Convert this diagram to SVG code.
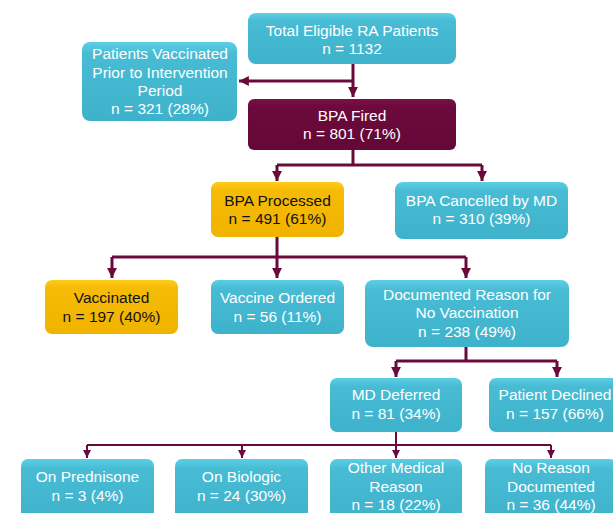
<svg xmlns="http://www.w3.org/2000/svg" width="613" height="513" viewBox="0 0 613 513">
<defs>
<linearGradient id="gT" x1="0" y1="0" x2="0" y2="1"><stop offset="0" stop-color="#5ccfe6"/><stop offset="0.15" stop-color="#48bcd4"/><stop offset="1" stop-color="#3fb2cb"/></linearGradient>
<linearGradient id="gG" x1="0" y1="0" x2="0" y2="1"><stop offset="0" stop-color="#ffcc1a"/><stop offset="0.15" stop-color="#f6bb06"/><stop offset="1" stop-color="#f0b400"/></linearGradient>
<linearGradient id="gM" x1="0" y1="0" x2="0" y2="1"><stop offset="0" stop-color="#7a1048"/><stop offset="0.15" stop-color="#6c0a3c"/><stop offset="1" stop-color="#640837"/></linearGradient>
<marker id="ah" viewBox="0 0 10 10" refX="10" refY="5" markerWidth="3.3" markerHeight="3.3" orient="auto" markerUnits="strokeWidth"><path d="M0,0 L10,5 L0,10 z" fill="#6b0a3a"/></marker>
<marker id="ahs" viewBox="0 0 10 10" refX="10" refY="5" markerWidth="4" markerHeight="4" orient="auto" markerUnits="strokeWidth"><path d="M0,0 L10,5 L0,10 z" fill="#6b0a3a"/></marker>
</defs>
<style>
.t rect{fill:url(#gT);}
.g rect{fill:url(#gG);}
.m rect{fill:url(#gM);}
text{font-family:"Liberation Sans",Arial,sans-serif;font-size:15.5px;text-anchor:middle;fill:#ffffff;}
.g text{fill:#111111;}
.c{stroke:#6b0a3a;fill:none;stroke-width:3;}
.c2{stroke:#6b0a3a;fill:none;stroke-width:2;}
</style>
<g id="connectors">
<path class="c" d="M353,64 V97" marker-end="url(#ah)"/>
<path class="c" d="M353,81 H239" marker-end="url(#ah)"/>
<path class="c" d="M353,150 V165"/>
<path class="c" d="M277,165 H482"/>
<path class="c" d="M277,165 V181" marker-end="url(#ah)"/>
<path class="c" d="M482,165 V181" marker-end="url(#ah)"/>
<path class="c" d="M277,237 V257"/>
<path class="c" d="M112,257 H466"/>
<path class="c" d="M112,257 V278" marker-end="url(#ah)"/>
<path class="c" d="M277,257 V278" marker-end="url(#ah)"/>
<path class="c" d="M466,257 V278" marker-end="url(#ah)"/>
<path class="c" d="M466,347 V361"/>
<path class="c" d="M396,361 H557"/>
<path class="c" d="M396,361 V377" marker-end="url(#ah)"/>
<path class="c" d="M557,361 V377" marker-end="url(#ah)"/>
<path class="c2" d="M396,432 V445"/>
<path class="c2" d="M87,445 H551"/>
<path class="c2" d="M87,445 V458" marker-end="url(#ahs)"/>
<path class="c2" d="M242,445 V458" marker-end="url(#ahs)"/>
<path class="c2" d="M396,445 V458" marker-end="url(#ahs)"/>
<path class="c2" d="M551,445 V458" marker-end="url(#ahs)"/>
</g>
<g id="total" class="t"><rect x="248" y="13" width="208" height="51" rx="8"/><text x="352" y="36">Total Eligible RA Patients</text><text x="352" y="54">n = 1132</text></g>
<g id="prior" class="t"><rect x="82" y="42" width="155" height="79" rx="8"/><text x="160" y="59">Patients Vaccinated</text><text x="160" y="78">Prior to Intervention</text><text x="160" y="96">Period</text><text x="160" y="114">n = 321 (28%)</text></g>
<g id="bpafired" class="m"><rect x="248" y="99" width="208" height="51" rx="6"/><text x="352" y="121">BPA Fired</text><text x="352" y="139">n = 801 (71%)</text></g>
<g id="processed" class="g"><rect x="211" y="182" width="133" height="55" rx="7"/><text x="277.5" y="206">BPA Processed</text><text x="277.5" y="224">n = 491 (61%)</text></g>
<g id="cancelled" class="t"><rect x="395" y="182" width="173" height="57" rx="8"/><text x="481.5" y="206">BPA Cancelled by MD</text><text x="481.5" y="224">n = 310 (39%)</text></g>
<g id="vaccinated" class="g"><rect x="45" y="280" width="133" height="54" rx="7"/><text x="111.5" y="303">Vaccinated</text><text x="111.5" y="322">n = 197 (40%)</text></g>
<g id="ordered" class="t"><rect x="211" y="280" width="133" height="54" rx="7"/><text x="277.5" y="303">Vaccine Ordered</text><text x="277.5" y="322">n = 56 (11%)</text></g>
<g id="documented" class="t"><rect x="365" y="280" width="204" height="67" rx="8"/><text x="467" y="300">Documented Reason for</text><text x="467" y="318">No Vaccination</text><text x="467" y="337">n = 238 (49%)</text></g>
<g id="mddeferred" class="t"><rect x="330" y="378" width="132" height="54" rx="7"/><text x="396" y="400">MD Deferred</text><text x="396" y="419">n = 81 (34%)</text></g>
<g id="declined" class="t"><rect x="489" y="378" width="132" height="54" rx="7"/><text x="555" y="400">Patient Declined</text><text x="555" y="419">n = 157 (66%)</text></g>
<g id="prednisone" class="t"><rect x="21" y="459" width="133" height="64" rx="7"/><text x="87.5" y="482">On Prednisone</text><text x="87.5" y="501">n = 3 (4%)</text></g>
<g id="biologic" class="t"><rect x="175" y="459" width="133" height="64" rx="7"/><text x="241.5" y="482">On Biologic</text><text x="241.5" y="501">n = 24 (30%)</text></g>
<g id="othermedical" class="t"><rect x="330" y="459" width="132" height="64" rx="7"/><text x="396" y="473">Other Medical</text><text x="396" y="492">Reason</text><text x="396" y="510">n = 18 (22%)</text></g>
<g id="noreason" class="t"><rect x="485" y="459" width="132" height="64" rx="7"/><text x="551" y="473">No Reason</text><text x="551" y="492">Documented</text><text x="551" y="510">n = 36 (44%)</text></g>
</svg>
